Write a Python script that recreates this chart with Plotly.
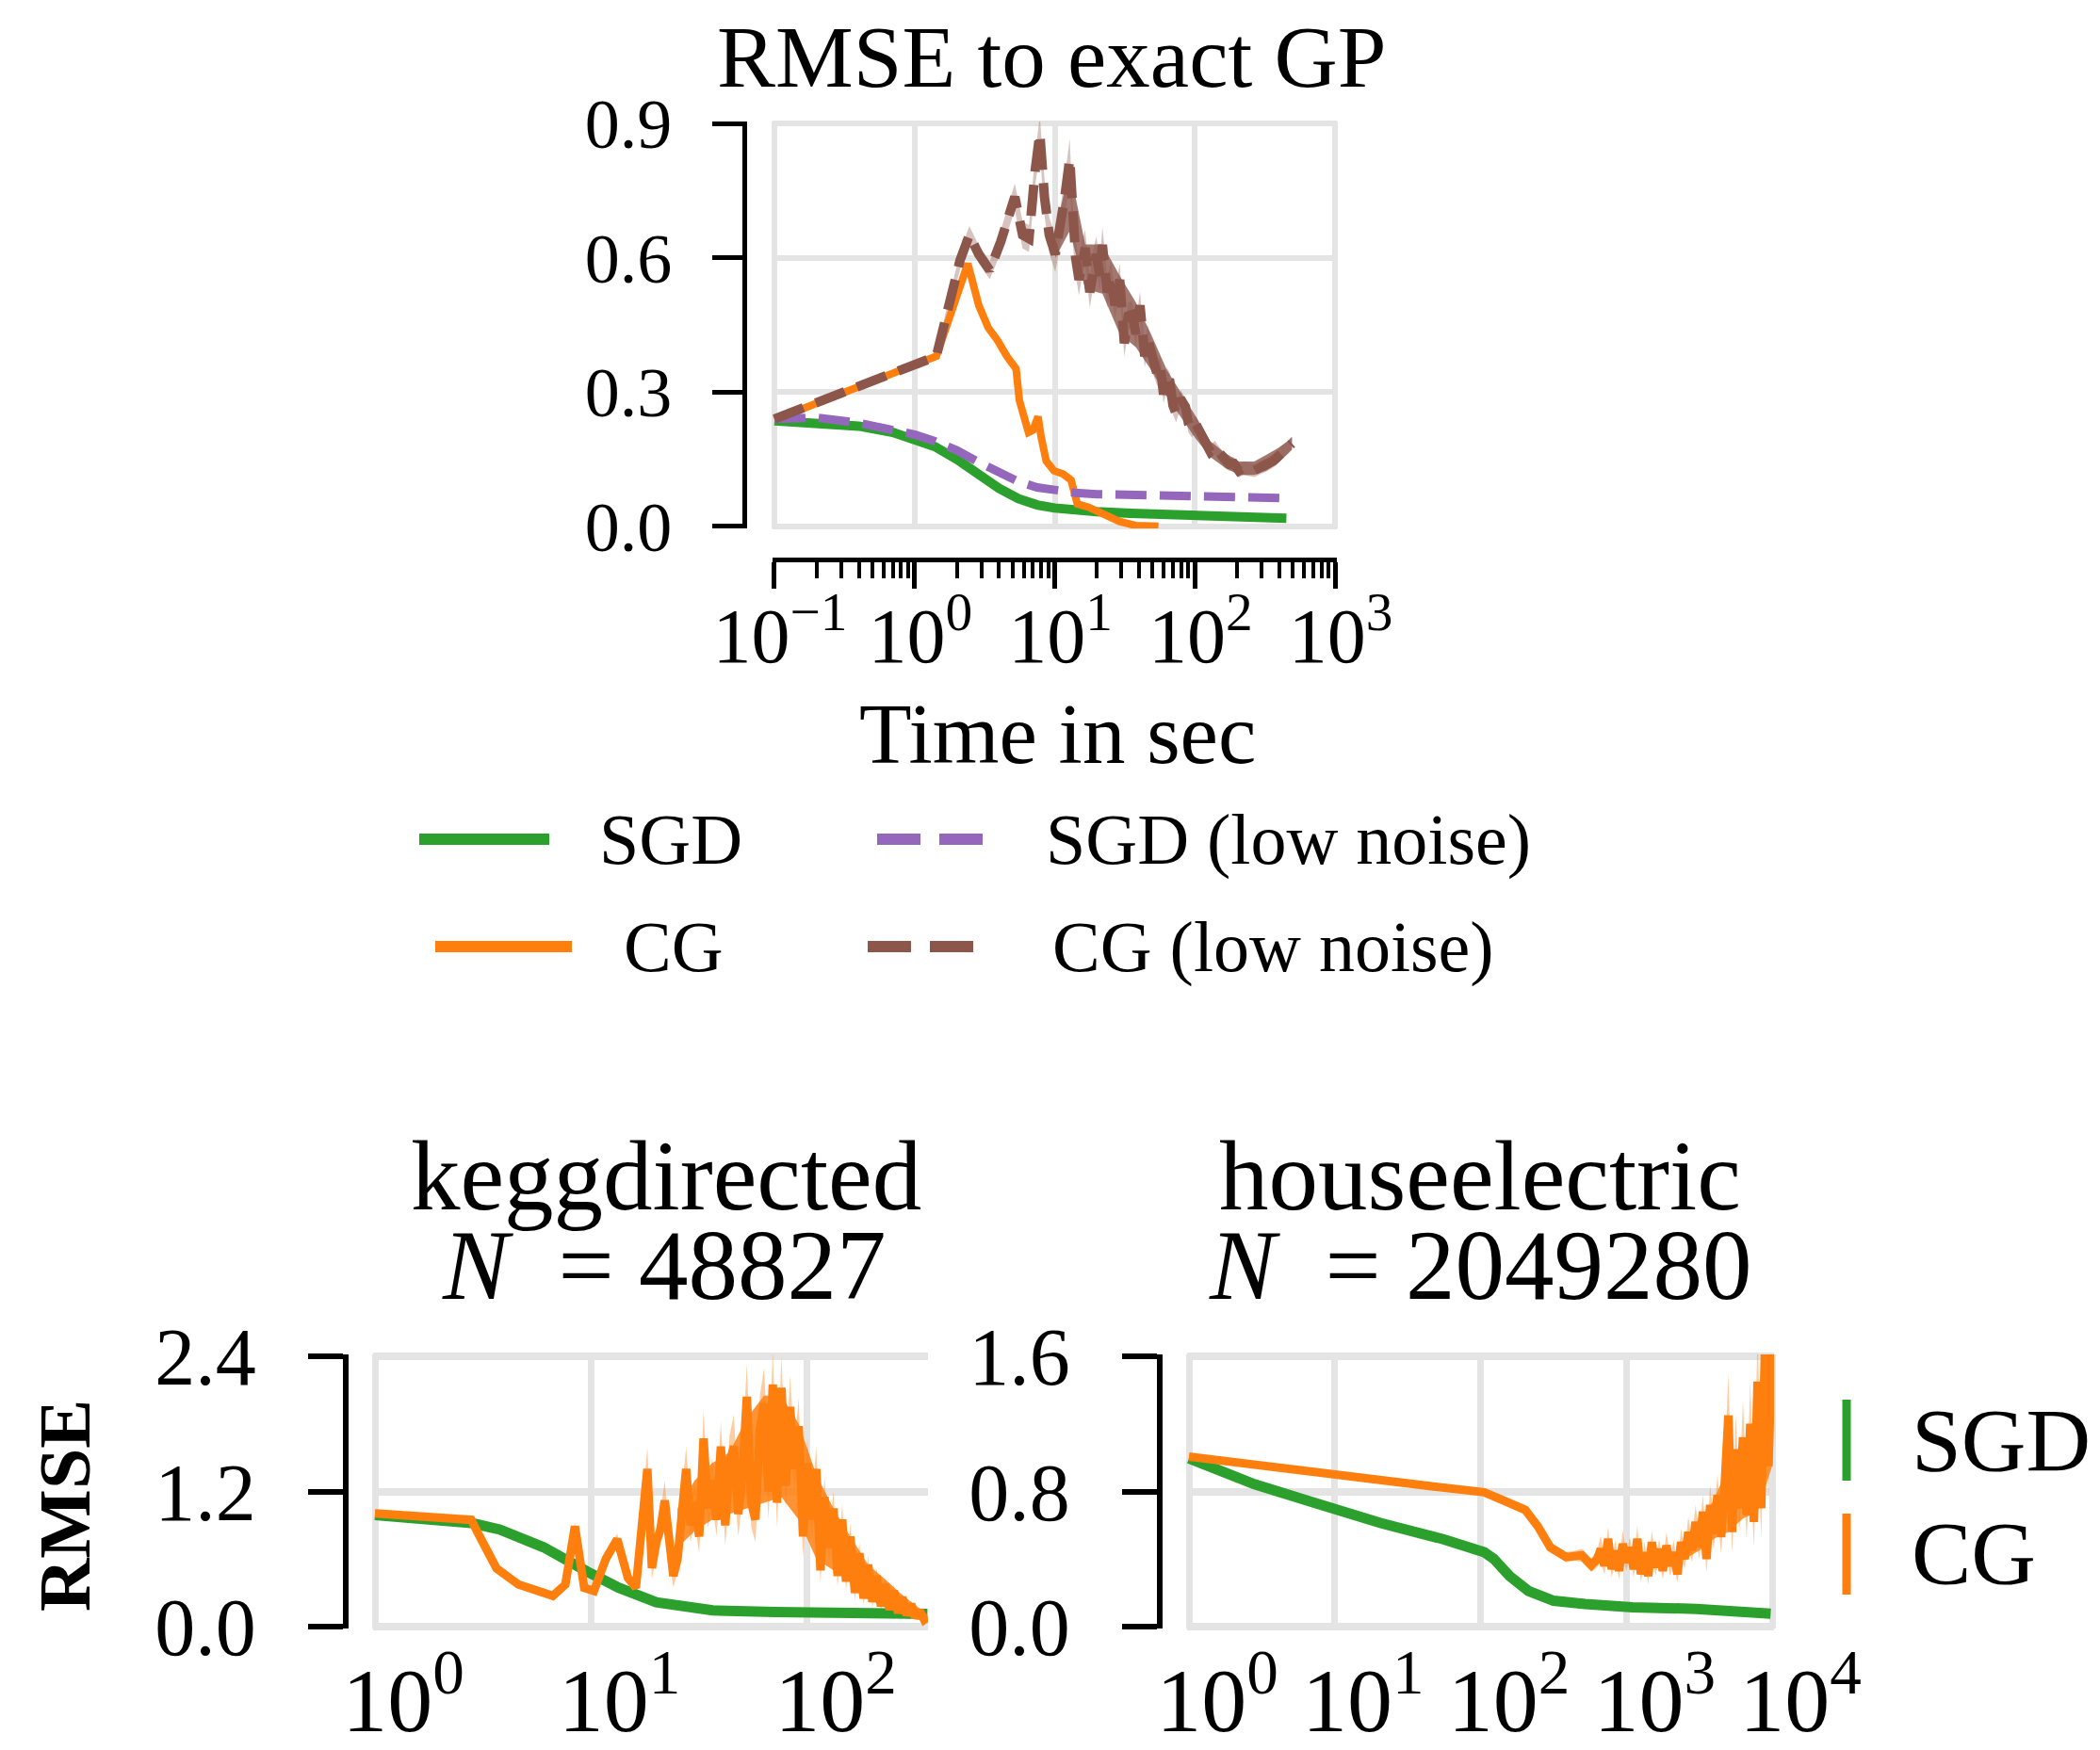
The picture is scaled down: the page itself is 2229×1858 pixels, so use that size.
import plotly.graph_objects as go

W, H = 2229, 1858
OFF = 8  # page body margin of the rendered html page
SERIF = "Liberation Serif"
GREEN, ORANGE, PURPLE, BROWN = "#2ca02c", "#ff7f0e", "#9467bd", "#8c564b"
GRID = "#e4e4e4"

# ---------------- top panel: RMSE to exact GP vs time (s) ----------------
sgd_t = [0.1, 0.2, 0.4, 0.7, 1.0, 1.4, 2.0, 2.8, 4.0, 5.5, 7.5, 10, 14, 20, 35, 60, 100, 180, 300, 450]
sgd_rmse = [0.236, 0.232, 0.224, 0.210, 0.196, 0.178, 0.150, 0.118, 0.085, 0.062, 0.048, 0.041,
            0.036, 0.033, 0.029, 0.026, 0.024, 0.021, 0.019, 0.018]

sgd_low_t = [0.1, 0.2, 0.4, 0.7, 1.0, 1.4, 2.0, 2.8, 4.0, 5.5, 7.5, 10, 14, 20, 35, 60, 100, 180, 300, 430]
sgd_low_rmse = [0.240, 0.243, 0.231, 0.216, 0.205, 0.190, 0.170, 0.145, 0.120, 0.100, 0.087, 0.080,
                0.075, 0.072, 0.070, 0.069, 0.068, 0.066, 0.064, 0.063]

cg_t = [0.1, 1.43, 2.4, 2.87, 3.35, 3.9, 4.56, 5.3, 5.6, 6.0, 6.5, 7.0, 7.6, 8.0, 8.7, 9.9,
        11.5, 13.1, 14.5, 17.4, 22.5, 29.0, 37.6, 55.0]
cg_rmse = [0.238, 0.380, 0.587, 0.494, 0.444, 0.416, 0.380, 0.352, 0.281, 0.240, 0.210, 0.215,
           0.245, 0.200, 0.146, 0.124, 0.117, 0.103, 0.050, 0.043, 0.028, 0.011, 0.002, 0.0]

cg_low_t = [0.1, 1.43, 2.11, 2.46, 2.87, 3.44, 4.12, 5.19, 5.9, 6.55, 7.24, 7.83, 8.45, 9.14,
            10.1, 10.9, 11.8, 12.8, 13.4, 14.1, 14.9, 15.7, 16.5, 17.8, 18.8, 19.8, 21.0, 21.9,
            23.7, 25.2, 26.9, 29.1, 31.4, 33.5, 35.7, 38.0, 40.6, 43.9, 46.0, 48.6, 51.0, 54.0,
            56.8, 59.8, 63.0, 66.2, 69.8, 73.5, 79.0, 85.7, 90.0, 95.0, 102, 111, 119, 129,
            139, 151, 163, 176, 190, 206, 222, 240, 265, 294, 325, 362, 392, 423, 460, 493]
cg_low_rmse = [0.240, 0.380, 0.594, 0.651, 0.608, 0.572, 0.636, 0.736, 0.651, 0.643, 0.793, 0.878,
               0.736, 0.651, 0.608, 0.665, 0.736, 0.821, 0.679, 0.600, 0.551, 0.600, 0.622, 0.523,
               0.575, 0.608, 0.560, 0.629, 0.523, 0.560, 0.494, 0.551, 0.409, 0.470, 0.473, 0.430,
               0.494, 0.380, 0.420, 0.388, 0.360, 0.338, 0.355, 0.295, 0.330, 0.324, 0.270, 0.252,
               0.285, 0.267, 0.230, 0.217, 0.228, 0.203, 0.180, 0.167, 0.176, 0.160, 0.145, 0.139,
               0.140, 0.124, 0.130, 0.128, 0.125, 0.132, 0.138, 0.146, 0.156, 0.167, 0.176, 0.185]
cg_low_err = [0.005, 0.008, 0.02, 0.02, 0.02, 0.02, 0.025, 0.03, 0.03, 0.03, 0.035, 0.04,
              0.04, 0.04, 0.04, 0.04, 0.045, 0.045, 0.04, 0.04, 0.035, 0.04, 0.04, 0.035,
              0.04, 0.04, 0.035, 0.04, 0.035, 0.035, 0.03, 0.035, 0.03, 0.03, 0.03, 0.03,
              0.03, 0.025, 0.03, 0.025, 0.025, 0.025, 0.025, 0.02, 0.025, 0.02, 0.02, 0.02,
              0.02, 0.02, 0.02, 0.018, 0.018, 0.018, 0.015, 0.015, 0.015, 0.015, 0.015, 0.015,
              0.015, 0.015, 0.015, 0.015, 0.015, 0.015, 0.015, 0.015, 0.015, 0.015, 0.015, 0.015]
# dense core of the oscillating CG (low noise) curve
cg_low_core_t = [10.1, 12.8, 16.5, 21.9, 29.1, 38.0, 48.6, 63.0, 79.0, 102, 129, 163, 206, 265,
                 325, 392, 460, 493]
cg_low_core_hi = [0.66, 0.80, 0.63, 0.63, 0.56, 0.50, 0.43, 0.35, 0.30, 0.245, 0.19, 0.165, 0.145,
                  0.145, 0.16, 0.175, 0.19, 0.20]
cg_low_core_lo = [0.60, 0.66, 0.53, 0.52, 0.43, 0.40, 0.35, 0.29, 0.245, 0.195, 0.155, 0.132,
                  0.115, 0.115, 0.125, 0.142, 0.162, 0.172]

top_tickvals = [0.1, 1, 10, 100, 1000]
top_ticktext = ["10<sup>\u22121</sup>", "10<sup>0</sup>", "10<sup>1</sup>", "10<sup>2</sup>", "10<sup>3</sup>"]
top_ytickvals = [0.0, 0.3, 0.6, 0.9]
top_yticktext = ["0.0", "0.3", "0.6", "0.9"]
top_legend_labels = ["SGD", "CG", "SGD (low noise)", "CG (low noise)"]

# ---------------- bottom left: keggdirected ----------------
kegg_sgd_t = [1.0, 1.78, 2.79, 3.78, 6.03, 9.6, 13.4, 20.0, 28.2, 36.5, 71, 169, 359]
kegg_sgd_rmse = [0.99, 0.96, 0.92, 0.862, 0.704, 0.489, 0.345, 0.216, 0.165, 0.144, 0.129, 0.121, 0.112]

kegg_cg_t = [1.0, 2.79, 2.99, 3.65, 4.61, 6.65, 7.6, 8.41, 9.29, 10.3, 11.7, 13.2, 14.8, 16.1,
             18.2, 19.1, 20.0, 20.9, 21.9, 22.9, 24.0, 25.1, 26.3, 27.5, 28.8, 30.2, 31.6, 33.1,
             34.7, 36.3, 38.0, 39.8, 41.7, 43.7, 45.7, 47.9, 50.1, 52.5, 55.0, 57.5, 60.3, 63.1,
             66.1, 69.2, 72.4, 75.9, 79.4, 83.2, 87.1, 91.2, 95.5, 100, 105, 110, 115, 120, 126,
             132, 138, 145, 151, 158, 166, 174, 182, 191, 200, 209, 219, 229, 240, 251, 263, 275,
             288, 302, 316, 331, 347, 359]
kegg_cg_rmse = [1.006, 0.948, 0.833, 0.517, 0.374, 0.273, 0.374, 0.891, 0.345, 0.316, 0.603, 0.776,
                0.431, 0.345,
                1.40, 0.52, 0.75, 0.86, 1.12, 0.70, 0.45, 0.60, 1.05, 1.40, 0.90, 1.10, 0.80, 1.67,
                1.05, 1.30, 0.95, 1.60, 0.90, 1.45, 1.60, 1.00, 1.35, 2.04, 1.10, 0.95, 1.75, 1.98,
                1.20, 2.15, 1.10, 2.12, 1.25, 1.95, 1.40, 1.78, 0.80, 1.45, 0.95, 1.40, 0.50, 1.15,
                0.70, 1.05, 0.45, 0.95, 0.40, 0.80, 0.30, 0.65, 0.25, 0.55, 0.22, 0.45, 0.18, 0.38,
                0.15, 0.32, 0.12, 0.26, 0.10, 0.20, 0.08, 0.14, 0.06, 0.08]
kegg_cg_err = [0.02, 0.02, 0.02, 0.02, 0.02, 0.02, 0.02, 0.03, 0.03, 0.03, 0.05, 0.05, 0.04, 0.04,
               0.20, 0.10, 0.12, 0.15, 0.18, 0.12, 0.10, 0.12, 0.15, 0.20, 0.15, 0.18, 0.15, 0.25,
               0.18, 0.20, 0.15, 0.22, 0.18, 0.25, 0.28, 0.20, 0.22, 0.30, 0.22, 0.20, 0.30, 0.32,
               0.25, 0.30, 0.22, 0.28, 0.22, 0.28, 0.20, 0.25, 0.18, 0.22, 0.18, 0.20, 0.12, 0.18,
               0.12, 0.15, 0.10, 0.14, 0.08, 0.12, 0.07, 0.10, 0.06, 0.08, 0.05, 0.07, 0.04, 0.06,
               0.04, 0.05, 0.03, 0.04, 0.03, 0.03, 0.02, 0.03, 0.02, 0.02]
# dense core of the oscillating CG curve
kegg_core_t = [25.1, 30.2, 36.3, 43.7, 52.5, 63.1, 75.9, 91.2, 110, 132, 158, 191, 229, 275, 331, 359]
kegg_core_hi = [1.05, 1.30, 1.45, 1.55, 1.85, 2.05, 2.05, 1.80, 1.35, 1.05, 0.80, 0.55, 0.42, 0.28,
                0.16, 0.11]
kegg_core_lo = [0.70, 0.85, 0.95, 1.00, 1.05, 1.10, 1.15, 0.95, 0.60, 0.50, 0.40, 0.25, 0.17, 0.11,
                0.07, 0.06]

kegg_xtickvals = [1, 10, 100]
kegg_xticktext = ["10<sup>0</sup>", "10<sup>1</sup>", "10<sup>2</sup>"]
kegg_ytickvals = [0.0, 1.2, 2.4]
kegg_yticktext = ["0.0", "1.2", "2.4"]

# ---------------- bottom right: houseelectric ----------------
house_sgd_t = [1.0, 2.81, 7.6, 20.6, 55.6, 106, 123, 158, 213, 317, 521, 1100, 3020, 9770]
house_sgd_rmse = [0.996, 0.843, 0.728, 0.613, 0.517, 0.441, 0.402, 0.300, 0.211, 0.153, 0.134,
                  0.115, 0.105, 0.077]

house_cg_t = [1.0, 2.19, 5.93, 16.0, 43.4, 106, 129, 203, 247, 301, 386, 447, 495, 575,
              631, 668, 708, 750, 794, 841, 891, 944, 1000, 1059, 1122, 1189, 1259, 1334, 1413,
              1496, 1585, 1679, 1778, 1884, 1995, 2113, 2239, 2371, 2512, 2661, 2818, 2985, 3162,
              3350, 3548, 3758, 3981, 4217, 4467, 4732, 5012, 5309, 5623, 5957, 6310, 6683, 7079,
              7499, 7943, 8414, 8913, 9441, 10000]
house_cg_rmse = [1.006, 0.968, 0.929, 0.881, 0.833, 0.795, 0.766, 0.690, 0.594, 0.469, 0.412,
                 0.420, 0.422, 0.364,
                 0.40, 0.46, 0.36, 0.52, 0.34, 0.45, 0.33, 0.49, 0.38, 0.47, 0.34, 0.52, 0.31,
                 0.44, 0.30, 0.50, 0.35, 0.46, 0.33, 0.48, 0.36, 0.44, 0.31, 0.50, 0.40, 0.56,
                 0.45, 0.62, 0.47, 0.68, 0.40, 0.72, 0.55, 0.78, 0.53, 0.85, 1.25, 0.56, 1.05,
                 0.70, 1.12, 0.66, 1.20, 0.62, 1.45, 0.70, 1.62, 0.95, 1.70]
house_cg_err = [0.02, 0.02, 0.02, 0.02, 0.02, 0.02, 0.025, 0.03, 0.03, 0.03, 0.03, 0.03, 0.04, 0.04,
                0.05, 0.08, 0.05, 0.07, 0.05, 0.06, 0.05, 0.08, 0.05, 0.06, 0.05, 0.08, 0.05,
                0.06, 0.05, 0.07, 0.05, 0.06, 0.05, 0.08, 0.06, 0.07, 0.05, 0.08, 0.06, 0.09,
                0.07, 0.10, 0.07, 0.10, 0.08, 0.12, 0.09, 0.12, 0.10, 0.15, 0.25, 0.12, 0.20,
                0.14, 0.22, 0.14, 0.25, 0.15, 0.30, 0.18, 0.30, 0.20, 0.30]
# dense core of the oscillating CG curve
house_core_t = [2512, 3162, 3981, 5012, 6310, 7943, 10000]
house_core_hi = [0.50, 0.62, 0.75, 0.95, 1.05, 1.30, 1.60]
house_core_lo = [0.40, 0.45, 0.52, 0.56, 0.64, 0.68, 0.95]

house_xtickvals = [1, 10, 100, 1000, 10000]
house_xticktext = ["10<sup>0</sup>", "10<sup>1</sup>", "10<sup>2</sup>", "10<sup>3</sup>", "10<sup>4</sup>"]
house_ytickvals = [0.0, 0.8, 1.6]
house_yticktext = ["0.0", "0.8", "1.6"]
bottom_legend_labels = ["SGD", "CG"]

for a, b in [(sgd_t, sgd_rmse), (sgd_low_t, sgd_low_rmse), (cg_t, cg_rmse),
             (cg_low_t, cg_low_rmse), (cg_low_t, cg_low_err), (kegg_sgd_t, kegg_sgd_rmse),
             (kegg_cg_t, kegg_cg_rmse), (kegg_cg_t, kegg_cg_err), (house_sgd_t, house_sgd_rmse),
             (house_cg_t, house_cg_rmse), (house_cg_t, house_cg_err),
             (cg_low_core_t, cg_low_core_hi), (cg_low_core_t, cg_low_core_lo),
             (kegg_core_t, kegg_core_hi), (kegg_core_t, kegg_core_lo),
             (house_core_t, house_core_hi), (house_core_t, house_core_lo)]:
    assert len(a) == len(b), (len(a), len(b))


def px(v):
    return (v - OFF) / W


def py(v):
    return 1 - (v - OFF) / H


fig = go.Figure()


def add_area(t, lo, hi, color, xa, ya):
    fig.add_trace(go.Scatter(x=list(t) + list(t)[::-1], y=list(hi) + list(lo)[::-1],
                             fill="toself", fillcolor=color, mode="lines",
                             line=dict(width=0, color=color), hoverinfo="skip",
                             showlegend=False, xaxis=xa, yaxis=ya))


def add_band(t, y, e, color, xa, ya):
    up = [a + b for a, b in zip(y, e)]
    lo = [max(a - b, 0.0) for a, b in zip(y, e)]
    add_area(t, lo, up, color, xa, ya)


def add_line(t, y, color, width, xa, ya, name, dash="solid"):
    fig.add_trace(go.Scatter(x=t, y=y, mode="lines", name=name,
                             line=dict(color=color, width=width, dash=dash),
                             showlegend=False, xaxis=xa, yaxis=ya))


# top panel
add_band(cg_low_t, cg_low_rmse, cg_low_err, "rgba(140,86,75,0.35)", "x", "y")
add_line(sgd_t, sgd_rmse, GREEN, 10, "x", "y", "SGD")
add_line(cg_t, cg_rmse, ORANGE, 8, "x", "y", "CG")
add_line(sgd_low_t, sgd_low_rmse, PURPLE, 9, "x", "y", "SGD (low noise)", dash="33px,14px")
add_area(cg_low_core_t, cg_low_core_lo, cg_low_core_hi, "rgba(140,86,75,0.80)", "x", "y")
add_line(cg_low_t, cg_low_rmse, BROWN, 10, "x", "y", "CG (low noise)", dash="33px,14px")

# bottom left
add_band(kegg_cg_t, kegg_cg_rmse, kegg_cg_err, "rgba(255,127,14,0.40)", "x2", "y2")
add_line(kegg_sgd_t, kegg_sgd_rmse, GREEN, 11, "x2", "y2", "SGD")
add_area(kegg_core_t, kegg_core_lo, kegg_core_hi, "rgba(255,127,14,0.85)", "x2", "y2")
add_line(kegg_cg_t, kegg_cg_rmse, ORANGE, 9, "x2", "y2", "CG")

# bottom right
add_band(house_cg_t, house_cg_rmse, house_cg_err, "rgba(255,127,14,0.40)", "x3", "y3")
add_line(house_sgd_t, house_sgd_rmse, GREEN, 11, "x3", "y3", "SGD")
add_area(house_core_t, house_core_lo, house_core_hi, "rgba(255,127,14,0.80)", "x3", "y3")
add_line(house_cg_t, house_cg_rmse, ORANGE, 9, "x3", "y3", "CG")

tick_font_topx = dict(family=SERIF, size=82, color="black")
tick_font_topy = dict(family=SERIF, size=74, color="black")
tick_font_botx = dict(family=SERIF, size=96, color="black")
tick_font_boty = dict(family=SERIF, size=86, color="black")

common = dict(showgrid=True, gridcolor=GRID, zeroline=False, automargin=False)

fig.update_layout(
    width=W, height=H, margin=dict(l=0, r=0, t=0, b=0, pad=0, autoexpand=False),
    paper_bgcolor="white", plot_bgcolor="white", showlegend=False,
    xaxis=dict(domain=[px(820), px(1419)], type="log", range=[-1.0134, 3.0134], anchor="free",
               position=py(594), showline=True, linecolor="black", linewidth=5,
               ticks="outside", ticklen=28, tickwidth=5, tickcolor="black",
               tickvals=top_tickvals, ticktext=top_ticktext, tickfont=tick_font_topx,
               ticklabelstandoff=-20, ticklabelshift=6, gridwidth=6,
               minor=dict(ticks="outside", ticklen=17, tickwidth=3.5, tickcolor="black",
                          dtick="D1", showgrid=False),
               **common),
    yaxis=dict(domain=[py(561), py(129)], range=[-0.0045, 0.9045], anchor="free", position=px(790),
               showline=True, linecolor="black", linewidth=5, ticks="outside", ticklen=32,
               tickwidth=5, tickcolor="black", tickvals=top_ytickvals, ticktext=top_yticktext,
               tickfont=tick_font_topy, ticklabelstandoff=28, gridwidth=6, **common),
    xaxis2=dict(domain=[px(396), px(985)], type="log", range=[-0.0087, 2.558], anchor="y2",
                showline=False, ticks="", tickvals=kegg_xtickvals, ticktext=kegg_xticktext,
                tickfont=tick_font_botx, ticklabelstandoff=12, ticklabelshift=30, gridwidth=7,
                **common),
    yaxis2=dict(domain=[py(1729), py(1438)], range=[-0.0167, 2.4167], anchor="free", position=px(367),
                showline=True, linecolor="black", linewidth=6, ticks="outside", ticklen=37,
                tickwidth=6, tickcolor="black", tickvals=kegg_ytickvals, ticktext=kegg_yticktext,
                tickfont=tick_font_boty, ticklabelstandoff=38, gridwidth=8, **common),
    xaxis3=dict(domain=[px(1260), px(1883)], type="log", range=[-0.0129, 4.0129], anchor="y3",
                showline=False, ticks="", tickvals=house_xtickvals, ticktext=house_xticktext,
                tickfont=tick_font_botx, ticklabelstandoff=12, ticklabelshift=30, gridwidth=7,
                **common),
    yaxis3=dict(domain=[py(1729), py(1438)], range=[-0.0111, 1.6111], anchor="free", position=px(1231),
                showline=True, linecolor="black", linewidth=6, ticks="outside", ticklen=37,
                tickwidth=6, tickcolor="black", tickvals=house_ytickvals, ticktext=house_yticktext,
                tickfont=tick_font_boty, ticklabelstandoff=38, gridwidth=8, **common),
)

ann = []


def text(s, x, y, size, xanchor="center", yanchor="middle", angle=0):
    ann.append(dict(text=s, x=px(x), y=py(y), xref="paper", yref="paper", showarrow=False,
                    xanchor=xanchor, yanchor=yanchor, textangle=angle, borderpad=0,
                    font=dict(family=SERIF, size=size, color="black")))


text("RMSE to exact GP", 1116, 60, 93)
text("Time in sec", 1123, 779, 91)
text("keggdirected", 707, 1248, 105)
text("<i>N</i>\u00a0 = 48827", 705, 1343, 105)
text("houseelectric", 1571, 1248, 105)
text("<i>N</i>\u00a0 = 2049280", 1571, 1343, 105)
text("<b>RMSE</b>", 68, 1599, 78, angle=-90)

shapes = []

# top legend (two columns): key line + label
top_keys = [(GREEN, "solid", 445, 583, 891, 635),
            (ORANGE, "solid", 462, 607, 1005, 661),
            (PURPLE, "46px,20px", 931, 1048, 891, 1109),
            (BROWN, "46px,20px", 921, 1048, 1005, 1116)]
for label, (col, dash, x0, x1, yc, tx) in zip(top_legend_labels, top_keys):
    shapes.append(dict(type="line", xref="paper", yref="paper", x0=px(x0), x1=px(x1),
                       y0=py(yc), y1=py(yc), line=dict(color=col, width=12, dash=dash)))
    text(label, tx, yc, 76, xanchor="left")

# bottom legend (vertical keys)
bot_keys = [(GREEN, 1486, 1572, 1530), (ORANGE, 1607, 1693, 1650)]
for label, (col, y0, y1, yc) in zip(bottom_legend_labels, bot_keys):
    shapes.append(dict(type="line", xref="paper", yref="paper", x0=px(1960), x1=px(1960),
                       y0=py(y0), y1=py(y1), line=dict(color=col, width=9)))
    text(label, 2028, yc, 95, xanchor="left")

fig.update_layout(annotations=ann, shapes=shapes)
fig.write_html("out.html")
